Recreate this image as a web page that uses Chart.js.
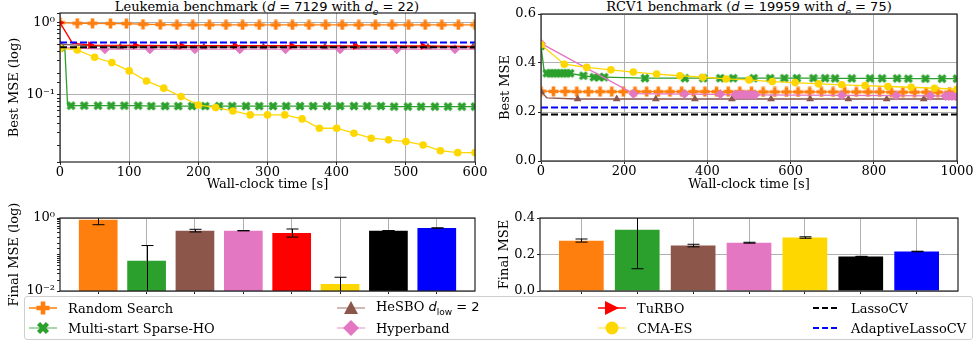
<!DOCTYPE html>
<html>
<head>
<meta charset="utf-8">
<script src="https://cdn.jsdelivr.net/npm/chart.js@4.4.0/dist/chart.umd.min.js"></script>
<style>
body { margin: 0; background: #fff; width: 977px; height: 347px; overflow: hidden; position: relative; font-family: 'DejaVu Serif', serif; }
.box { position: absolute; }
.ttl { position: absolute; font-size: 13px; white-space: nowrap; transform: translateX(-50%); line-height: 15px; }
.m { font-family: 'DejaVu Sans'; font-style: italic; }
.m sub, .n sub { font-size: 9px; }
.n { font-family: 'DejaVu Sans'; }
#legend { position: absolute; left: 24px; top: 296px; width: 947px; height: 42px; border: 1px solid #cfcfcf; border-radius: 3px; background: rgba(255,255,255,0.85); }
.item { position: absolute; font-size: 13px; white-space: nowrap; display: flex; align-items: center; height: 16px; }
.item svg { margin-right: 11px; }
</style>
</head>
<body>
<div class="ttl" style="left:267px;top:-1px">Leukemia benchmark (<span class="m">d</span><span class="n"> = 7129</span> with <span class="m">d<sub>e</sub></span><span class="n"> = 22</span>)</div>
<div class="ttl" style="left:749px;top:-1px">RCV1 benchmark (<span class="m">d</span><span class="n"> = 19959</span> with <span class="m">d<sub>e</sub></span><span class="n"> = 75</span>)</div>
<div class="box" style="left:0;top:0"><canvas id="leuk" width="490" height="195"></canvas></div>
<div class="box" style="left:490px;top:0"><canvas id="rcv" width="487" height="195"></canvas></div>
<div class="box" style="left:0;top:195px"><canvas id="leukBar" width="490" height="152"></canvas></div>
<div class="box" style="left:490px;top:195px"><canvas id="rcvBar" width="487" height="152"></canvas></div>
<div id="legend"></div>
<script>
// methods and colours
const methods = ['Random Search', 'Multi-start Sparse-HO', 'HeSBO', 'Hyperband', 'TuRBO', 'CMA-ES', 'LassoCV', 'AdaptiveLassoCV'];
const colors = ['#ff7f0e', '#2ca02c', '#8c564b', '#e377c2', '#ff0000', '#ffd700', '#000000', '#0000ff'];

// tick labels
const leukXTicks = [0, 100, 200, 300, 400, 500, 600];
const rcvXTicks = [0, 200, 400, 600, 800, 1000];
const rcvYTicks = [0, 0.2, 0.4, 0.6];
const rcvBarYTicks = [0, 0.2, 0.4];

// Leukemia curves (time [s], best MSE)
const leukRsT = [0, 25, 47, 73, 96, 120, 145, 169, 192, 216, 240, 264, 288, 312, 336, 360, 384, 408, 432, 456, 480, 504, 528, 552, 576, 600];
const leukRsY = [1.0, 0.98, 0.98, 0.97, 0.97, 0.95, 0.94, 0.93, 0.93, 0.93, 0.93, 0.93, 0.93, 0.93, 0.93, 0.93, 0.93, 0.93, 0.93, 0.93, 0.93, 0.93, 0.93, 0.93, 0.93, 0.93];
const leukMsT = [0, 7, 11, 16, 35, 55, 74, 93, 113, 132, 152, 171, 191, 210, 230, 249, 269, 288, 308, 327, 347, 366, 386, 405, 425, 444, 464, 483, 503, 522, 542, 561, 581, 600];
const leukMsY = [0.45, 0.44, 0.071, 0.071, 0.071, 0.071, 0.071, 0.071, 0.071, 0.07, 0.07, 0.07, 0.07, 0.07, 0.07, 0.07, 0.07, 0.07, 0.07, 0.07, 0.07, 0.07, 0.07, 0.07, 0.07, 0.07, 0.07, 0.069, 0.069, 0.069, 0.069, 0.069, 0.069, 0.069];
const leukHbT = [0, 87, 169, 208, 294, 383, 429, 532, 597];
const leukHbY = [0.5, 0.46, 0.46, 0.46, 0.46, 0.46, 0.46, 0.46, 0.46];
const leukHyT = [0, 65, 130, 195, 260, 326, 405, 487, 571, 600];
const leukHyY = [0.45, 0.43, 0.43, 0.43, 0.43, 0.43, 0.43, 0.43, 0.43, 0.43];
const leukTuT = [0, 18, 44, 109, 176, 253, 335, 427, 525, 600];
const leukTuY = [1.0, 0.52, 0.49, 0.485, 0.48, 0.48, 0.48, 0.475, 0.475, 0.47];
const leukCmT = [0, 25, 50, 75, 100, 125, 150, 175, 200, 225, 250, 275, 300, 325, 350, 375, 400, 425, 450, 475, 500, 525, 550, 575, 600];
const leukCmY = [0.44, 0.419, 0.332, 0.28, 0.215, 0.156, 0.124, 0.0948, 0.0727, 0.0668, 0.06, 0.0529, 0.0529, 0.0529, 0.0466, 0.0346, 0.0346, 0.0295, 0.0252, 0.0239, 0.0226, 0.0203, 0.0169, 0.0159, 0.0159];
const leukLasso = 0.455;
const leukAdaLasso = 0.53;

// RCV1 curves
const rcvRsT = [0, 30, 58, 86, 114, 142, 170, 198, 226, 254, 282, 310, 338, 366, 394, 422, 450, 478, 506, 534, 562, 590, 618, 646, 674, 702, 730, 758, 786, 814, 842, 870, 898, 926, 954, 982, 1000];
const rcvRsY = [0.285, 0.284, 0.284, 0.283, 0.283, 0.283, 0.283, 0.283, 0.283, 0.283, 0.283, 0.283, 0.283, 0.283, 0.283, 0.283, 0.283, 0.283, 0.283, 0.282, 0.282, 0.282, 0.282, 0.282, 0.282, 0.282, 0.282, 0.282, 0.282, 0.282, 0.281, 0.281, 0.281, 0.281, 0.281, 0.281, 0.281];
const rcvMsT = [0, 8, 14, 22, 30, 38, 46, 54, 62, 70, 102, 127, 140, 152, 250, 346, 390, 431, 462, 511, 551, 585, 615, 655, 683, 707, 747, 791, 820, 856, 883, 924, 964, 1000];
const rcvMsY = [0.47, 0.36, 0.358, 0.358, 0.358, 0.358, 0.358, 0.358, 0.358, 0.358, 0.348, 0.342, 0.342, 0.342, 0.338, 0.338, 0.338, 0.338, 0.338, 0.338, 0.338, 0.338, 0.338, 0.338, 0.338, 0.337, 0.337, 0.337, 0.337, 0.337, 0.336, 0.336, 0.336, 0.336];
const rcvHbT = [0, 14, 88, 182, 276, 370, 459, 553, 647, 739, 831, 920, 1000];
const rcvHbY = [0.283, 0.258, 0.253, 0.253, 0.253, 0.253, 0.253, 0.253, 0.253, 0.253, 0.253, 0.253, 0.253];
const rcvHyT = [0, 222, 345, 431, 467, 475, 483, 491, 499, 507, 515, 723, 854, 936, 972, 980, 988, 996, 1000];
const rcvHyY = [0.48, 0.275, 0.273, 0.272, 0.27, 0.27, 0.27, 0.27, 0.27, 0.27, 0.27, 0.268, 0.267, 0.266, 0.265, 0.265, 0.265, 0.265, 0.265];
const rcvCmT = [0, 56, 110, 168, 222, 278, 334, 389, 445, 500, 556, 611, 667, 723, 779, 834, 890, 946, 1000];
const rcvCmY = [0.475, 0.395, 0.382, 0.372, 0.363, 0.355, 0.348, 0.342, 0.335, 0.331, 0.324, 0.32, 0.315, 0.311, 0.308, 0.304, 0.301, 0.297, 0.293];
const rcvLasso = 0.19;
const rcvAdaLasso = 0.218;

// final MSE bars (mean, lower, upper of the error bar)
const leukBarMean = [0.9, 0.067, 0.448, 0.448, 0.386, 0.0156, 0.448, 0.531];
const leukBarLo = [0.655, 0.004, 0.415, 0.445, 0.3, 0.004, 0.446, 0.528];
const leukBarHi = [1.15, 0.176, 0.49, 0.452, 0.5, 0.0238, 0.451, 0.535];
const rcvBarIdx = [0, 1, 2, 3, 5, 6, 7];   // TuRBO missing on RCV1
const rcvBarMean = [0.276, 0.336, 0.249, 0.264, 0.293, 0.189, 0.216];
const rcvBarLo = [0.268, 0.122, 0.242, 0.262, 0.289, 0.188, 0.215];
const rcvBarHi = [0.285, 0.55, 0.256, 0.267, 0.297, 0.19, 0.218];

Chart.defaults.font.family = "'DejaVu Serif', serif";
Chart.defaults.font.size = 13;
Chart.defaults.color = '#000';
Chart.defaults.animation = false;

// filled plus / filled x markers like matplotlib 'P' and 'X'
function crossPts(h, a, rot) {
  const pts = [[-a,-h],[a,-h],[a,-a],[h,-a],[h,a],[a,a],[a,h],[-a,h],[-a,a],[-h,a],[-h,-a],[-a,-a]];
  const c = Math.cos(rot), s = Math.sin(rot);
  return pts.map(([x, y]) => [x * c - y * s, x * s + y * c]);
}
function markerImg(color, size, h, a, rot) {
  const c = document.createElement('canvas');
  c.width = size; c.height = size;
  const g = c.getContext('2d');
  g.fillStyle = color;
  g.beginPath();
  crossPts(h, a, rot).forEach(([x, y], i) => i ? g.lineTo(size/2 + x, size/2 + y) : g.moveTo(size/2 + x, size/2 + y));
  g.closePath();
  g.fill();
  return c;
}
const plusImg = markerImg(colors[0], 11, 5, 1.8, 0);
const xImg = markerImg(colors[1], 12, 4.8, 1.7, Math.PI / 4);

function line(k, T, Y, hide) {
  const st = [
    {pointStyle: plusImg, r: 5},
    {pointStyle: xImg, r: 5},
    {pointStyle: 'triangle', r: 4.5},
    {pointStyle: 'rectRot', r: 5},
    {pointStyle: 'triangle', r: 4.5, rot: 90},
    {pointStyle: 'circle', r: 3.8}
  ][k];
  return {
    label: methods[k],
    data: T.map((t, i) => ({x: t, y: Y[i]})),
    borderColor: colors[k],
    backgroundColor: colors[k],
    borderWidth: 1.3,
    pointStyle: st.pointStyle,
    pointRotation: st.rot || 0,
    pointBorderWidth: 0,
    pointRadius: ctx => (hide || []).includes(ctx.dataIndex) ? 0 : st.r,
    tension: 0
  };
}
function hline(k, v, T) {
  return {
    label: methods[k],
    data: [{x: T[0], y: v}, {x: T[T.length - 1], y: v}],
    borderColor: colors[k],
    borderWidth: 2,
    borderDash: [7, 3],
    pointRadius: 0
  };
}

const frame = {
  id: 'frame',
  afterDraw(chart) {
    const {ctx, chartArea: a} = chart;
    ctx.save();
    ctx.strokeStyle = '#222';
    ctx.lineWidth = 1.2;
    ctx.strokeRect(a.left, a.top, a.right - a.left, a.bottom - a.top);
    ctx.restore();
  }
};
const errorBars = {
  id: 'errorBars',
  afterDatasetsDraw(chart, args, opts) {
    const {ctx, chartArea: a, scales: {x, y}} = chart;
    ctx.save();
    ctx.beginPath();
    ctx.rect(a.left, a.top, a.right - a.left, a.bottom - a.top);
    ctx.clip();
    ctx.strokeStyle = '#000';
    ctx.lineWidth = 1;
    opts.lo.forEach((lo, i) => {
      const px = Math.round(x.getPixelForValue(i)) + 0.5;
      const p1 = y.getPixelForValue(lo), p2 = y.getPixelForValue(opts.hi[i]);
      ctx.beginPath();
      ctx.moveTo(px, p1); ctx.lineTo(px, p2);
      ctx.moveTo(px - 6, p1); ctx.lineTo(px + 6, p1);
      ctx.moveTo(px - 6, p2); ctx.lineTo(px + 6, p2);
      ctx.stroke();
    });
    ctx.restore();
  }
};

const sup = {'0': '\u2070', '1': '\u00b9', '2': '\u00b2', '-': '\u207b'};
function logLabel(v) {
  const l = Math.log10(v);
  if (Math.abs(l - Math.round(l)) > 1e-6) return '';
  return '10' + String(Math.round(l)).split('').map(c => sup[c]).join('');
}
function majorGrid(ctx) {
  if (!ctx.tick) return 'transparent';
  const l = Math.log10(ctx.tick.value);
  return Math.abs(l - Math.round(l)) < 1e-6 ? '#b0b0b0' : 'transparent';
}
const setTicks = arr => s => { s.ticks = arr.map(v => ({value: v})); };
const gridOpts = {color: '#b0b0b0', tickColor: '#222', tickLength: 3};

function baseOpts(pad) {
  return {
    responsive: false,
    devicePixelRatio: 1,
    layout: {padding: pad},
    plugins: {legend: {display: false}, tooltip: {enabled: false}}
  };
}

// Leukemia curves
new Chart(document.getElementById('leuk'), {
  type: 'line',
  data: {datasets: [
    hline(7, leukAdaLasso, leukXTicks),
    hline(6, leukLasso, leukXTicks),
    line(5, leukCmT, leukCmY),
    line(4, leukTuT, leukTuY, [1, 9]),
    line(3, leukHyT, leukHyY, [9]),
    line(2, leukHbT, leukHbY),
    line(1, leukMsT, leukMsY, [1, 2]),
    line(0, leukRsT, leukRsY)
  ]},
  options: Object.assign(baseOpts({top: 13, right: 15, left: 0, bottom: 0}), {
    scales: {
      x: {type: 'linear', min: 0, max: 600, afterBuildTicks: setTicks(leukXTicks),
          ticks: {padding: 0, maxRotation: 0, callback: v => String(v)}, grid: gridOpts, border: {display: false},
          title: {display: true, text: 'Wall-clock time [s]', padding: 3},
          afterFit: s => { s.height = 33; }},
      y: {type: 'logarithmic', min: 0.0118, max: 1.36,
          ticks: {autoSkip: false, callback: logLabel, padding: 2},
          grid: {color: majorGrid, tickColor: '#222', tickLength: 3}, border: {display: false},
          title: {display: true, text: 'Best MSE (log)', padding: 7},
          afterFit: s => { s.width = 60; }}
    }
  }),
  plugins: [frame]
});

// RCV1 curves
new Chart(document.getElementById('rcv'), {
  type: 'line',
  data: {datasets: [
    hline(7, rcvAdaLasso, rcvXTicks),
    hline(6, rcvLasso, rcvXTicks),
    line(5, rcvCmT, rcvCmY),
    line(3, rcvHyT, rcvHyY),
    line(2, rcvHbT, rcvHbY, [1, 12]),
    line(1, rcvMsT, rcvMsY, [1]),
    line(0, rcvRsT, rcvRsY)
  ]},
  options: Object.assign(baseOpts({top: 14, right: 20, left: 0, bottom: 0}), {
    scales: {
      x: {type: 'linear', min: 0, max: 1000, afterBuildTicks: setTicks(rcvXTicks),
          ticks: {padding: 0, maxRotation: 0, callback: v => String(v)}, grid: gridOpts, border: {display: false},
          title: {display: true, text: 'Wall-clock time [s]', padding: 3},
          afterFit: s => { s.height = 34; }},
      y: {type: 'linear', min: 0, max: 0.6, afterBuildTicks: setTicks(rcvYTicks),
          ticks: {callback: v => v.toFixed(1), padding: 2},
          grid: gridOpts, border: {display: false},
          title: {display: true, text: 'Best MSE', padding: 8},
          afterFit: s => { s.width = 51; }}
    }
  }),
  plugins: [frame]
});

function barChart(id, mean, lo, hi, cols, yScale, yTitle, yWidth, padRight) {
  const n = mean.length;
  return new Chart(document.getElementById(id), {
    type: 'bar',
    data: {datasets: [{
      data: mean.map((v, i) => ({x: i, y: v})),
      backgroundColor: cols,
      barPercentage: 0.8,
      categoryPercentage: 1
    }]},
    options: Object.assign(baseOpts({top: 23, right: padRight, left: 0, bottom: 52}), {
      scales: {
        x: {type: 'linear', offset: false, min: -0.4 - 0.05 * (n - 0.2), max: n - 0.6 + 0.05 * (n - 0.2), z: 1,
            afterBuildTicks: setTicks(mean.map((v, i) => i)),
            ticks: {display: false}, grid: Object.assign({offset: false}, gridOpts), border: {display: false},
            afterFit: s => { s.height = 4; }},
        y: Object.assign({z: 1, border: {display: false},
            title: {display: true, text: yTitle, padding: 7},
            afterFit: s => { s.width = yWidth; }}, yScale)
      },
      plugins: {legend: {display: false}, tooltip: {enabled: false}, errorBars: {lo: lo, hi: hi}}
    }),
    plugins: [errorBars, frame]
  });
}

barChart('leukBar', leukBarMean, leukBarLo, leukBarHi, colors,
  {type: 'logarithmic', min: 0.01, max: 1,
   ticks: {autoSkip: false, padding: 2, callback: v => (Math.abs(Math.log10(v)) < 1e-6 || Math.abs(Math.log10(v) + 2) < 1e-6) ? logLabel(v) : ''},
   grid: {color: ctx => ctx.tick && (Math.abs(Math.log10(ctx.tick.value)) < 1e-6 || Math.abs(Math.log10(ctx.tick.value) + 2) < 1e-6) ? '#b0b0b0' : 'transparent', tickColor: '#222', tickLength: 3}},
  'Final MSE (log)', 60, 15);

barChart('rcvBar', rcvBarMean, rcvBarLo, rcvBarHi, rcvBarIdx.map(i => colors[i]),
  {type: 'linear', min: 0, max: 0.4, afterBuildTicks: setTicks(rcvBarYTicks),
   ticks: {padding: 2, callback: v => v.toFixed(1)}, grid: gridOpts},
  'Final MSE', 50, 19);

// legend (html, with svg icons)
function icon(k) {
  const c = colors[k];
  let s = '<svg width="28" height="16">';
  if (k >= 6) {
    s += '<line x1="1" y1="8" x2="27" y2="8" stroke="' + c + '" stroke-width="2" stroke-dasharray="6,3"/>';
  } else {
    const faint = (k === 0 || k === 4) ? 1 : 0.55;
    s += '<line x1="0" y1="8" x2="28" y2="8" stroke="' + c + '" stroke-width="1.5" stroke-opacity="' + faint + '"/>';
    if (k === 0 || k === 1) {
      const p = k === 0 ? crossPts(6.5, 2.3, 0) : crossPts(6.3, 2.2, Math.PI / 4);
      s += '<polygon fill="' + c + '" points="' + p.map(([x, y]) => (14 + x) + ',' + (8 + y)).join(' ') + '"/>';
    } else if (k === 2) {
      s += '<polygon fill="' + c + '" points="14,1 21,14 7,14"/>';
    } else if (k === 3) {
      s += '<polygon fill="' + c + '" points="14,0 22,8 14,16 6,8"/>';
    } else if (k === 4) {
      s += '<polygon fill="' + c + '" points="7,1 21,8 7,15"/>';
    } else {
      s += '<circle cx="14" cy="8" r="6.5" fill="' + c + '"/>';
    }
  }
  return s + '</svg>';
}
const legendText = ['Random Search', 'Multi-start Sparse-HO',
  'HeSBO <span class="m">d</span><sub style="font-family:\'DejaVu Sans\';font-size:9px">low</sub><span class="n"> = 2</span>',
  'Hyperband', 'TuRBO', 'CMA-ES', 'LassoCV', 'AdaptiveLassoCV'];
const legendCols = [4, 312, 573, 787];
const legendRows = [3, 23];
const legend = document.getElementById('legend');
methods.forEach((m, k) => {
  const d = document.createElement('div');
  d.className = 'item';
  d.style.left = legendCols[Math.floor(k / 2)] + 'px';
  d.style.top = legendRows[k % 2] + 'px';
  d.innerHTML = icon(k) + '<span>' + legendText[k] + '</span>';
  legend.appendChild(d);
});
</script>
</body>
</html>
